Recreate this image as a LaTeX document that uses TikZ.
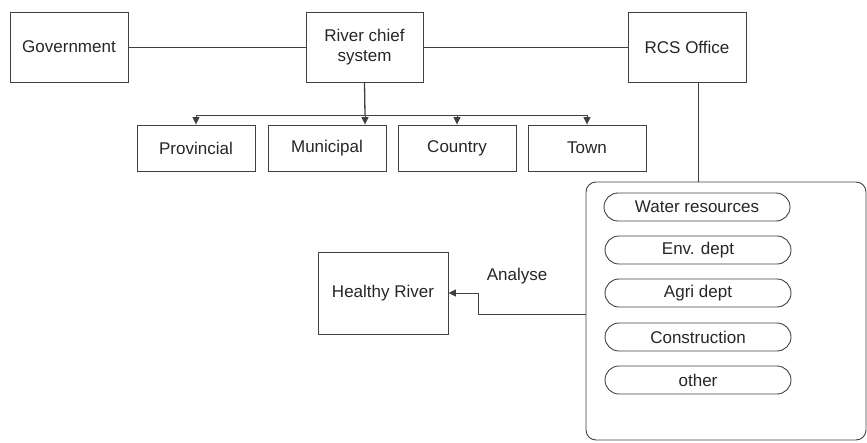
\documentclass[tikz,border=0pt]{standalone}
\usepackage{fontspec}
\setmainfont{Liberation Sans}
\usetikzlibrary{arrows.meta,calc}
\begin{document}
\begin{tikzpicture}[x=1pt,y=-1pt,
  every node/.style={font=\fontsize{17}{19.5}\selectfont, text=black!85},
  box/.style={draw=black!75, line width=0.9pt, rectangle, inner sep=0pt, align=center},
  pill/.style={draw=black!75, line width=0.9pt, rectangle, rounded corners=14pt, inner sep=0pt, minimum width=186pt, minimum height=28pt},
  conn/.style={draw=black!75, line width=0.9pt},
  arr/.style={conn, -{Triangle[length=7.5pt,width=7pt]}}]
\useasboundingbox (0,0) rectangle (867,442);
\node[box, minimum width=118pt, minimum height=70pt] (gov) at (69,47) {Government};
\node[box, minimum width=117pt, minimum height=70pt] (river) at (364.5,47) {River chief\\system};
\node[box, minimum width=118pt, minimum height=70pt] (rcs) at (687,47) {RCS Office};
\node[box, minimum width=118pt, minimum height=46pt] (prov) at (196,148) {Provincial};
\node[box, minimum width=118pt, minimum height=46pt] (mun) at (327,148) {Municipal};
\node[box, minimum width=118pt, minimum height=46pt] (country) at (457,148) {Country};
\node[box, minimum width=118pt, minimum height=46pt] (town) at (587,148) {Town};
\node[box, rounded corners=10pt, minimum width=280pt, minimum height=258pt] (panel) at (726,311) {};
\node[pill] (water) at (697,207) {Water resources};
\node[pill] (env) at (698,250) {Env. dept};
\node[pill] (agri) at (698,293) {Agri dept};
\node[pill] (cons) at (698,337) {Construction};
\node[pill] (other) at (698,380) {other};
\node[box, minimum width=130pt, minimum height=82pt] (healthy) at (383,293) {Healthy River};
\node (analyse) at (517,276) {Analyse};
\coordinate (bus) at (365,115);
\draw[conn] (gov) -- (river);
\draw[conn] (river) -- (rcs);
\draw[conn] ([xshift=11pt]rcs.south) -- ([xshift=11pt]rcs.south |- panel.north);
\draw[conn, line width=1.3pt] (river.south) -- (bus);
\draw[arr] (bus) -| (prov.north);
\draw[arr] (bus) -- (bus |- mun.north);
\draw[arr] (bus) -| (country.north);
\draw[arr] (bus) -| (town.north);
\draw[arr] ([yshift=-3pt]panel.west) -- ++(-107,0) |- (healthy.east);
\end{tikzpicture}
\end{document}
